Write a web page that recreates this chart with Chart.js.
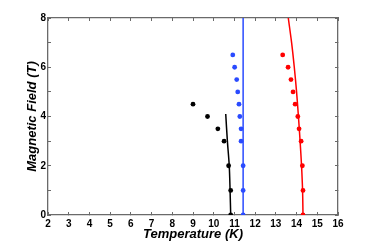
<!DOCTYPE html>
<html>
<head>
<meta charset="utf-8">
<script src="https://cdn.jsdelivr.net/npm/chart.js@4"></script>
<style>
  html, body { margin: 0; padding: 0; background: #fff; }
  #wrap { width: 374px; height: 242px; }
</style>
</head>
<body>
<div id="wrap"><canvas id="grafica"></canvas></div>
<script>
// datos: campo (T) contra temperatura (K)
const camposB = [6.5, 6.0, 5.5, 5.0, 4.5, 4.0, 3.5, 3.0, 2.0, 1.0, 0];
const negroT = [9.0, 9.7, 10.2, 10.5, 10.72, 10.82, 10.82];
const negroB = [4.5, 4.0, 3.5, 3.0, 2.0, 1.0, 0];
const azulT = [10.92, 11.01, 11.11, 11.16, 11.22, 11.26, 11.32, 11.32, 11.42, 11.42, 11.42];
const rojoT = [13.33, 13.59, 13.73, 13.83, 13.93, 14.06, 14.12, 14.22, 14.28, 14.31, 14.31];

// curvas de ajuste
const lineaNegroT = [10.82, 10.79, 10.75, 10.66, 10.58];
const lineaNegroB = [0, 1, 2, 3, 4.1];
const lineaAzulT = [11.42, 11.42];
const lineaAzulB = [0, 8];
const lineaRojoT = [14.31, 14.29, 14.24, 14.17, 14.09, 14.0, 13.89, 13.76, 13.6];
const lineaRojoB = [0, 1, 2, 3, 4, 5, 6, 7, 8];

const ticksX = [2, 3, 4, 5, 6, 7, 8, 9, 10, 11, 12, 13, 14, 15, 16];
const ticksY = [0, 1, 2, 3, 4, 5, 6, 7, 8];
const etiquetasY = [0, 2, 4, 6, 8];

const pares = (xs, ys) => xs.map((x, i) => ({ x: x, y: ys[i] }));

const fuente = "'Liberation Sans', Arial, sans-serif";
const gris = "#6a6a6a";

// rejilla solo como marcas cortas hacia dentro (tickLength negativo)
const marcas = { display: true, drawOnChartArea: false, drawTicks: true, tickLength: -3, color: gris, tickWidth: 1 };
const borde = { display: true, color: gris, width: 1.3 };

const linea = (datos, color) => ({
  data: datos,
  showLine: true,
  borderColor: color,
  borderWidth: 1.5,
  pointRadius: 0,
  fill: false,
  tension: 0.3,
  order: 2
});
const puntos = (datos, color) => ({
  data: datos,
  showLine: false,
  backgroundColor: color,
  borderColor: color,
  pointRadius: 2.4,
  pointBorderWidth: 0,
  order: 1
});

new Chart(document.getElementById("grafica").getContext("2d"), {
  type: "scatter",
  data: {
    datasets: [
      linea(pares(lineaNegroT, lineaNegroB), "#000000"),
      linea(pares(lineaAzulT, lineaAzulB), "#2a4bff"),
      linea(pares(lineaRojoT, lineaRojoB), "#ff0000"),
      puntos(pares(negroT, negroB), "#000000"),
      puntos(pares(azulT, camposB), "#2a4bff"),
      puntos(pares(rojoT, camposB), "#ff0000")
    ]
  },
  options: {
    responsive: true,
    maintainAspectRatio: false,
    animation: false,
    layout: { padding: { top: 18, right: 36, left: 0, bottom: 0 } },
    plugins: { legend: { display: false }, tooltip: { enabled: false } },
    scales: {
      x: {
        type: "linear",
        position: "bottom",
        min: 2, max: 16,
        afterFit: s => { s.height = 27; },
        afterBuildTicks: s => { s.ticks = ticksX.map(v => ({ value: v })); },
        grid: marcas,
        border: borde,
        ticks: { color: "#000", padding: 6, font: { family: fuente, size: 10, weight: "bold" } },
        title: {
          display: true,
          text: "Temperature (K)",
          color: "#000",
          padding: { top: 0, bottom: 0 },
          font: { family: fuente, size: 13, weight: "bold", style: "italic" }
        }
      },
      x2: {
        type: "linear",
        position: "top",
        min: 2, max: 16,
        afterFit: s => { s.height = 0; },
        afterBuildTicks: s => { s.ticks = ticksX.map(v => ({ value: v })); },
        grid: marcas,
        border: borde,
        ticks: { display: false }
      },
      y: {
        type: "linear",
        position: "left",
        min: 0, max: 8,
        afterFit: s => { s.width = 48; },
        afterBuildTicks: s => { s.ticks = ticksY.map(v => ({ value: v })); },
        grid: marcas,
        border: borde,
        ticks: {
          color: "#000",
          padding: 5,
          autoSkip: false,
          font: { family: fuente, size: 10, weight: "bold" },
          callback: v => etiquetasY.includes(v) ? String(v) : ""
        },
        title: {
          display: true,
          text: "Magnetic Field (T)",
          color: "#000",
          padding: { top: 25, bottom: 0 },
          font: { family: fuente, size: 13, weight: "bold", style: "italic" }
        }
      },
      y2: {
        type: "linear",
        position: "right",
        min: 0, max: 8,
        afterFit: s => { s.width = 0; },
        afterBuildTicks: s => { s.ticks = ticksY.map(v => ({ value: v })); },
        grid: marcas,
        border: borde,
        ticks: { display: false }
      }
    }
  }
});
</script>
</body>
</html>
